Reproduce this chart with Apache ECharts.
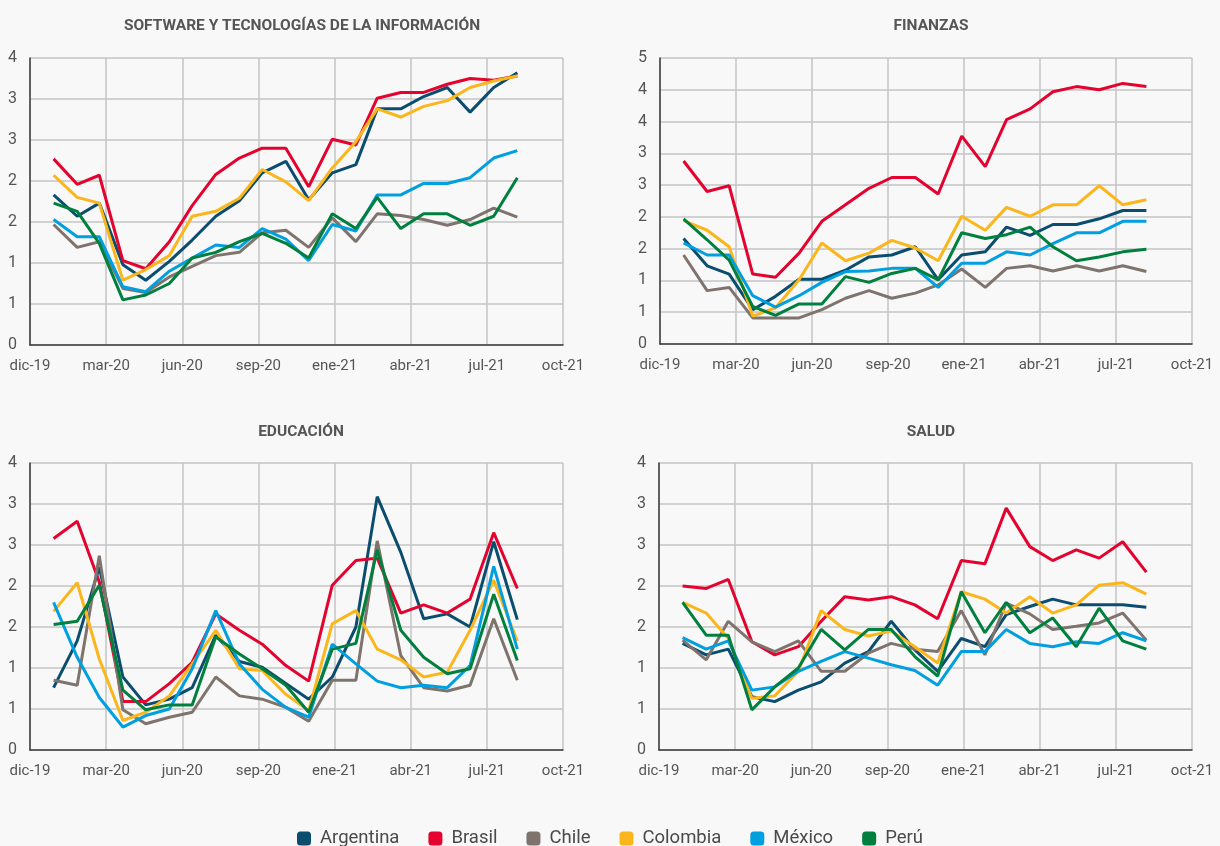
<!DOCTYPE html>
<html>
<head>
<meta charset="utf-8">
<script src="https://cdn.jsdelivr.net/npm/echarts@6/dist/echarts.min.js"></script>
<style>
  html, body { margin: 0; padding: 0; background: #f8f8f8; }
  #chart { width: 1220px; height: 846px; }
</style>
</head>
<body>
<div id="chart"></div>
<script>
// meses de los datos (primer día de cada mes)
var months = ['2020-01','2020-02','2020-03','2020-04','2020-05','2020-06','2020-07','2020-08','2020-09','2020-10',
  '2020-11','2020-12','2021-01','2021-02','2021-03','2021-04','2021-05','2021-06','2021-07','2021-08','2021-09'];
var countries = ['Argentina', 'Brasil', 'Chile', 'Colombia', 'México', 'Perú'];
var colors = ['#0b4d6e', '#e4032e', '#7f746d', '#fbb61b', '#009fdf', '#007f3e'];

// etiquetas de los ejes
var xLabels = ['dic-19', 'mar-20', 'jun-20', 'sep-20', 'ene-21', 'abr-21', 'jul-21', 'oct-21'];
var yLabels4 = ['0', '1', '1', '2', '2', '3', '3', '4'];
var yLabels5 = ['0', '1', '1', '2', '2', '3', '3', '4', '4', '5'];

// Software y tecnologías de la información
var swArgentina = [1.83,1.57,1.73,0.98,0.79,1.02,1.28,1.57,1.76,2.10,2.24,1.77,2.10,2.20,2.88,2.88,3.03,3.14,2.84,3.14,3.32];
var swBrasil = [2.27,1.96,2.07,1.03,0.93,1.26,1.70,2.08,2.28,2.40,2.40,1.93,2.51,2.44,3.01,3.08,3.08,3.18,3.25,3.23,3.28];
var swChile = [1.47,1.19,1.26,0.69,0.64,0.83,0.96,1.09,1.13,1.37,1.40,1.19,1.55,1.26,1.60,1.58,1.53,1.46,1.53,1.67,1.56];
var swColombia = [2.07,1.80,1.73,0.79,0.92,1.09,1.57,1.63,1.79,2.14,1.99,1.76,2.16,2.48,2.88,2.78,2.91,2.98,3.14,3.22,3.28];
var swMexico = [1.53,1.32,1.32,0.71,0.65,0.90,1.06,1.22,1.19,1.42,1.29,1.03,1.47,1.39,1.83,1.83,1.97,1.97,2.04,2.28,2.37];
var swPeru = [1.73,1.63,1.24,0.55,0.61,0.75,1.06,1.13,1.26,1.36,1.24,1.06,1.60,1.42,1.80,1.42,1.60,1.60,1.46,1.57,2.04];

// Finanzas
var fnArgentina = [1.66,1.23,1.10,0.54,0.75,1.02,1.02,1.16,1.37,1.40,1.53,1.01,1.40,1.45,1.84,1.71,1.88,1.88,1.97,2.10,2.10];
var fnBrasil = [2.88,2.40,2.49,1.10,1.05,1.43,1.93,2.19,2.45,2.62,2.62,2.36,3.27,2.79,3.53,3.70,3.97,4.05,4.00,4.10,4.05];
var fnChile = [1.40,0.84,0.89,0.41,0.41,0.41,0.54,0.72,0.84,0.72,0.80,0.93,1.18,0.89,1.19,1.23,1.15,1.23,1.15,1.23,1.14];
var fnColombia = [1.94,1.79,1.53,0.44,0.57,1.01,1.59,1.31,1.43,1.63,1.51,1.31,2.01,1.79,2.15,2.01,2.19,2.19,2.49,2.19,2.27];
var fnMexico = [1.59,1.40,1.40,0.76,0.58,0.76,0.97,1.14,1.15,1.19,1.19,0.89,1.27,1.27,1.45,1.40,1.58,1.75,1.75,1.93,1.93];
var fnPeru = [1.97,1.64,1.32,0.59,0.45,0.63,0.63,1.06,0.97,1.11,1.19,1.01,1.75,1.66,1.72,1.84,1.53,1.31,1.37,1.45,1.49];

// Educación
var edArgentina = [0.76,1.33,2.23,0.89,0.55,0.62,0.76,1.40,1.08,1.01,0.81,0.62,0.89,1.50,3.09,2.41,1.60,1.66,1.50,2.54,1.59];
var edBrasil = [2.58,2.79,2.05,0.59,0.59,0.81,1.07,1.66,1.46,1.29,1.03,0.84,2.01,2.31,2.34,1.67,1.77,1.67,1.84,2.65,1.97];
var edChile = [0.85,0.79,2.37,0.49,0.32,0.40,0.46,0.89,0.66,0.62,0.52,0.35,0.85,0.85,2.55,1.15,0.76,0.72,0.79,1.60,0.85];
var edColombia = [1.69,2.04,1.11,0.36,0.46,0.66,1.05,1.46,0.99,0.97,0.68,0.48,1.54,1.70,1.23,1.10,0.89,0.95,1.46,2.07,1.33];
var edMexico = [1.80,1.13,0.64,0.28,0.42,0.50,0.99,1.70,1.05,0.74,0.52,0.40,1.29,1.05,0.84,0.76,0.79,0.76,1.03,2.24,1.23];
var edPeru = [1.53,1.57,2.01,0.73,0.49,0.55,0.55,1.38,1.17,0.99,0.79,0.46,1.23,1.30,2.44,1.46,1.13,0.93,0.99,1.90,1.09];

// Salud
var saArgentina = [1.30,1.16,1.23,0.65,0.59,0.73,0.83,1.06,1.20,1.57,1.22,0.96,1.36,1.26,1.65,1.75,1.84,1.77,1.77,1.77,1.74];
var saBrasil = [2.00,1.97,2.08,1.32,1.16,1.26,1.57,1.87,1.83,1.87,1.77,1.60,2.31,2.27,2.95,2.48,2.31,2.44,2.34,2.54,2.17];
var saChile = [1.34,1.10,1.57,1.32,1.20,1.33,0.96,0.96,1.18,1.30,1.23,1.20,1.70,1.16,1.79,1.66,1.47,1.51,1.55,1.67,1.34];
var saColombia = [1.80,1.67,1.36,0.63,0.66,0.96,1.70,1.47,1.39,1.45,1.26,1.06,1.93,1.84,1.67,1.87,1.67,1.77,2.01,2.04,1.90];
var saMexico = [1.37,1.23,1.33,0.73,0.77,0.96,1.08,1.20,1.12,1.04,0.97,0.79,1.20,1.20,1.47,1.30,1.26,1.32,1.30,1.43,1.33];
var saPeru = [1.80,1.40,1.40,0.49,0.77,1.00,1.47,1.22,1.47,1.47,1.14,0.90,1.93,1.43,1.80,1.43,1.61,1.26,1.73,1.33,1.23];

var panels = [
  { title: 'SOFTWARE Y TECNOLOGÍAS DE LA INFORMACIÓN', cx: 297, ty: 13, grid: { left: 30, top: 58, width: 533, height: 287 },
    yMax: 3.5, yLabels: yLabels4, data: [swArgentina, swBrasil, swChile, swColombia, swMexico, swPeru] },
  { title: 'FINANZAS', cx: 926, ty: 13, grid: { left: 660, top: 58, width: 532, height: 286 },
    yMax: 4.5, yLabels: yLabels5, data: [fnArgentina, fnBrasil, fnChile, fnColombia, fnMexico, fnPeru] },
  { title: 'EDUCACIÓN', cx: 296, ty: 419, grid: { left: 30, top: 463, width: 533, height: 287 },
    yMax: 3.5, yLabels: yLabels4, data: [edArgentina, edBrasil, edChile, edColombia, edMexico, edPeru] },
  { title: 'SALUD', cx: 926, ty: 419, grid: { left: 659, top: 463, width: 533, height: 287 },
    yMax: 3.5, yLabels: yLabels4, data: [saArgentina, saBrasil, saChile, saColombia, saMexico, saPeru] }
];

// días desde el 1 de diciembre de 2019 (eje de fechas)
var base = Date.UTC(2019, 11, 1);
var days = months.map(function (m) {
  var p = m.split('-');
  return (Date.UTC(+p[0], +p[1] - 1, 1) - base) / 86400000;
});

var font = 'Roboto, "Noto Sans", sans-serif';
var titles = [], grids = [], xAxes = [], yAxes = [], series = [];

panels.forEach(function (p, k) {
  titles.push({
    text: p.title, left: p.cx, top: p.ty, textAlign: 'center',
    textStyle: { fontFamily: font, fontSize: 15.5, fontWeight: 'bold', color: '#555' }
  });
  grids.push(Object.assign({ containLabel: false }, p.grid));
  xAxes.push({
    type: 'value', gridIndex: k, min: 0, max: 700, interval: 100,
    axisLine: { show: true, lineStyle: { color: '#3a3a3a', width: 1.5 } },
    axisTick: { show: false },
    axisLabel: {
      margin: 14, color: '#555', fontFamily: font, fontSize: 15,
      formatter: function (v) { return xLabels[Math.round(v / 100)]; }
    },
    splitLine: { show: true, lineStyle: { color: '#c4c4c4', width: 1.5 } }
  });
  yAxes.push({
    type: 'value', gridIndex: k, min: 0, max: p.yMax, interval: 0.5,
    axisLine: { show: true, lineStyle: { color: '#3a3a3a', width: 1.5 } },
    axisTick: { show: false },
    axisLabel: {
      margin: 13, color: '#555', fontFamily: font, fontSize: 16,
      formatter: function (v) { return p.yLabels[Math.round(v / 0.5)]; }
    },
    splitLine: { show: true, lineStyle: { color: '#c4c4c4', width: 1.5 } }
  });
  p.data.forEach(function (vals, c) {
    series.push({
      name: countries[c], type: 'line', xAxisIndex: k, yAxisIndex: k,
      showSymbol: false, symbol: 'none', smooth: false,
      lineStyle: { width: 3, color: colors[c] }, itemStyle: { color: colors[c] },
      data: vals.map(function (v, i) { return [days[i], v]; })
    });
  });
});

var chart = echarts.init(document.getElementById('chart'));
chart.setOption({
  backgroundColor: '#f8f8f8',
  animation: false,
  title: titles,
  legend: {
    data: countries, top: 824, left: 'center', icon: 'roundRect',
    itemWidth: 14, itemHeight: 14, itemGap: 29,
    textStyle: { fontFamily: font, fontSize: 18.5, color: '#4a4a4a', padding: [0, 0, 0, 4] }
  },
  grid: grids,
  xAxis: xAxes,
  yAxis: yAxes,
  series: series
});
</script>
</body>
</html>
